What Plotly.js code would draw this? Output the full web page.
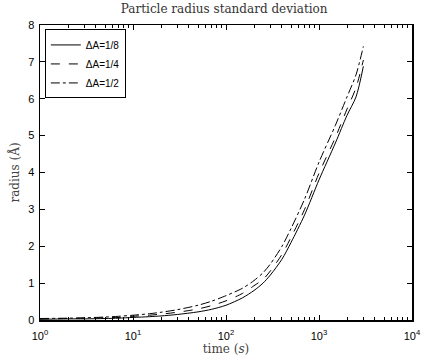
<!DOCTYPE html>
<html>
<head>
<meta charset="utf-8">
<script src="https://cdn.plot.ly/plotly-3.0.1.min.js"></script>
<style>html,body{margin:0;padding:0;background:#fff;}#chart{width:423px;height:360px;}</style>
</head>
<body>
<div id="chart"></div>
<script>
const time = [1,2,3,5,7,10,15,20,30,50,70,100,150,200,250,300,400,500,700,1000,1500,2000,2500,3000];
const rEighth = [0.02,0.03,0.03,0.04,0.05,0.07,0.09,0.11,0.15,0.22,0.29,0.40,0.60,0.80,1.00,1.22,1.65,2.10,2.85,3.80,4.80,5.55,6.05,6.88];
const rQuarter = [0.03,0.04,0.05,0.06,0.07,0.10,0.13,0.16,0.21,0.30,0.39,0.52,0.72,0.93,1.10,1.33,1.78,2.24,3.00,3.98,4.95,5.72,6.30,7.05];
const rHalf = [0.04,0.05,0.06,0.08,0.10,0.13,0.17,0.21,0.28,0.40,0.51,0.66,0.86,1.07,1.28,1.52,2.00,2.48,3.28,4.28,5.28,6.05,6.65,7.42];
const seriesNames = ['ΔA=1/8','ΔA=1/4','ΔA=1/2'];
const xTickVals = [1,10,100,1000,10000];
const xTickText = ['10<sup>0</sup>','10<sup>1</sup>','10<sup>2</sup>','10<sup>3</sup>','10<sup>4</sup>'];
const yTickVals = [0,1,2,3,4,5,6,7,8];

const dashes = ['solid','dash','dashdot'];
const ys = [rEighth, rQuarter, rHalf];
const traces = ys.map((y,i)=>({
  x: time, y: y, name: seriesNames[i], type: 'scatter', mode: 'lines',
  line: {color: '#000', width: 1, dash: dashes[i], shape: 'spline', smoothing: 0.8}
}));

const serif = 'DejaVu Serif, Liberation Serif, serif';
const sans = 'Liberation Sans, Arial, sans-serif';
const layout = {
  width: 423, height: 360,
  margin: {l: 40, r: 11, t: 25, b: 40},
  paper_bgcolor: '#fff', plot_bgcolor: '#fff',
  showlegend: true,
  title: {text: 'Particle radius standard deviation', font: {family: serif, size: 12, color: '#333'}, x: 0.53, xanchor: 'center', y: 0.975, yanchor: 'middle'},
  xaxis: {
    type: 'log', range: [0, 4],
    tickmode: 'array', tickvals: xTickVals, ticktext: xTickText,
    ticks: 'inside', ticklen: 5, tickcolor: '#000',
    showline: true, linecolor: '#000', linewidth: 1.5, mirror: 'ticks',
    showgrid: false, zeroline: false,
    ticklabeloverflow: 'allow', ticklabelstandoff: 5,
    tickfont: {family: sans, size: 11, color: '#000'},
    minor: {tickmode: 'linear', dtick: 'D1', ticks: 'inside', ticklen: 3, tickcolor: '#000', showgrid: false},
    title: {text: 'time (<i>s</i>)', font: {family: serif, size: 12, color: '#444'}, standoff: 2}
  },
  yaxis: {
    range: [0, 8],
    tickmode: 'array', tickvals: yTickVals,
    ticks: 'inside', ticklen: 5, tickcolor: '#000',
    showline: true, linecolor: '#000', linewidth: 1.5, mirror: 'ticks',
    showgrid: false, zeroline: false,
    ticklabeloverflow: 'allow', ticklabelstandoff: 2,
    tickfont: {family: sans, size: 11, color: '#000'},
    title: {text: 'radius (Å)', font: {family: serif, size: 12, color: '#444'}, standoff: 6}
  },
  legend: {
    x: 0.013, y: 0.985, xanchor: 'left', yanchor: 'top',
    bgcolor: '#fff', bordercolor: '#000', borderwidth: 1,
    font: {family: sans, size: 10, color: '#000'},
    tracegroupgap: 0, itemwidth: 30
  }
};
Plotly.newPlot('chart', traces, layout, {displayModeBar: false, staticPlot: true});
</script>
</body>
</html>
